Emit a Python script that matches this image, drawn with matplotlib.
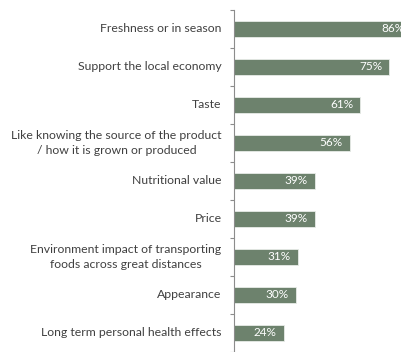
import matplotlib
matplotlib.use('Agg')
import matplotlib.pyplot as plt
import numpy as np

reasons = [
    'Freshness or in season',
    'Support the local economy',
    'Taste',
    'Like knowing the source of the product\n/ how it is grown or produced',
    'Nutritional value',
    'Price',
    'Environment impact of transporting\nfoods across great distances',
    'Appearance',
    'Long term personal health effects',
]
shares = [86, 75, 61, 56, 39, 39, 31, 30, 24]

bar_color = '#6d826d'
text_color = '#404040'
axis_color = '#8c8c8c'

plt.rcParams['font.family'] = ['Lato', 'DejaVu Sans']

fig = plt.figure(figsize=(4.01, 3.52), dpi=100)
# axes runs past the right edge of the figure, so the longest bar gets cut
ax = fig.add_axes([234 / 401, 0, 207 / 401, 342 / 352])

y = np.arange(len(reasons))
bars = ax.barh(y, shares, height=0.4, color=bar_color, edgecolor='#e8ece8', linewidth=0.6)

ax.set_xlim(0, 100)
ax.set_ylim(len(reasons) - 0.5, -0.5)

for yi, v in zip(y, shares):
    ax.text(v - 3.5, yi, '{}%'.format(v), ha='right', va='center', color='white', fontsize=8.5)

for yi, label in zip(y, reasons):
    ax.text(-6, yi, label, ha='right', va='center', multialignment='center',
            color=text_color, fontsize=8.8, linespacing=1.4, clip_on=False)

ax.set_xticks([])
ax.set_yticks(np.arange(-0.5, len(reasons), 1))
ax.set_yticklabels([])
ax.tick_params(axis='y', length=3, color=axis_color, width=0.8)

for side in ['top', 'right', 'bottom']:
    ax.spines[side].set_visible(False)
ax.spines['left'].set_color(axis_color)
ax.spines['left'].set_linewidth(0.8)

fig.savefig('out.png', dpi=100)
